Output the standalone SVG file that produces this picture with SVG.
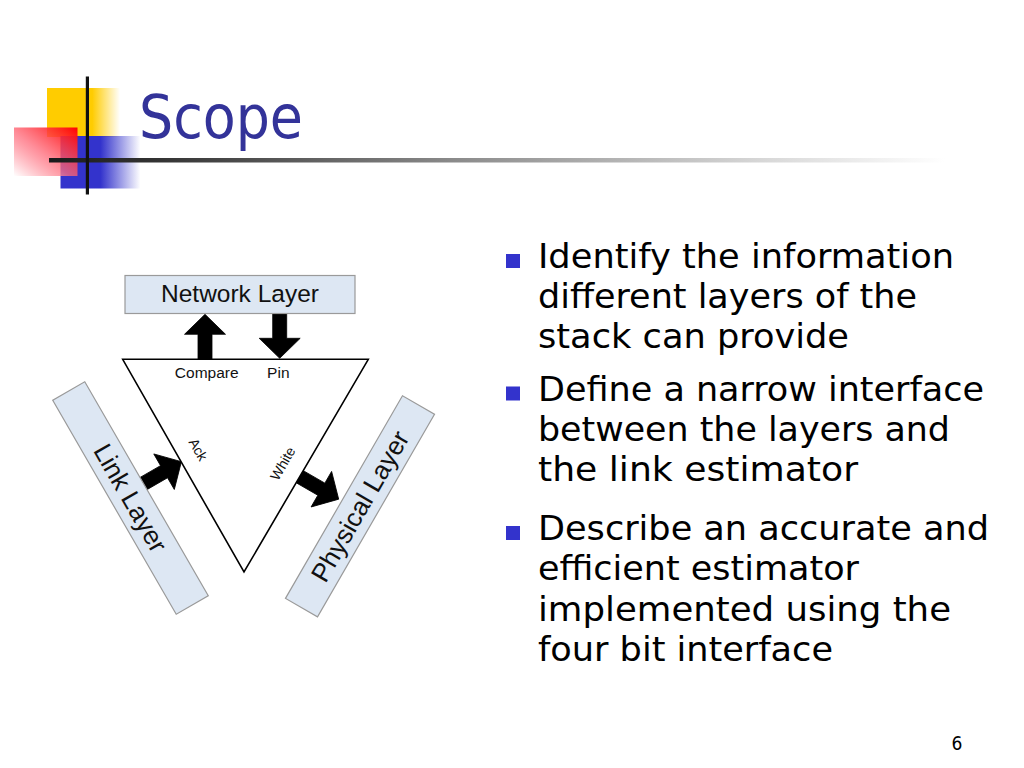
<svg xmlns="http://www.w3.org/2000/svg" width="1024" height="768" viewBox="0 0 1024 768">
<defs>
  <linearGradient id="gYellow" x1="0" y1="0" x2="1" y2="0">
    <stop offset="0" stop-color="#FFCC00"/>
    <stop offset="0.62" stop-color="#FFCC00"/>
    <stop offset="1" stop-color="#FFCC00" stop-opacity="0"/>
  </linearGradient>
  <linearGradient id="gBlue" x1="0" y1="0" x2="1" y2="0">
    <stop offset="0" stop-color="#3333CC"/>
    <stop offset="0.5" stop-color="#3333CC"/>
    <stop offset="1" stop-color="#3333CC" stop-opacity="0"/>
  </linearGradient>
  <linearGradient id="gRed" x1="1" y1="0" x2="0" y2="1">
    <stop offset="0" stop-color="#FF0000"/>
    <stop offset="0.55" stop-color="#FF6A7A" stop-opacity="0.75"/>
    <stop offset="1" stop-color="#FFFFFF" stop-opacity="0.9"/>
  </linearGradient>
  <linearGradient id="gLine" gradientUnits="userSpaceOnUse" x1="49" y1="0" x2="945" y2="0">
    <stop offset="0" stop-color="#1a1a1a"/>
    <stop offset="0.12" stop-color="#333333"/>
    <stop offset="0.45" stop-color="#8a8a8a"/>
    <stop offset="0.8" stop-color="#d8d8d8"/>
    <stop offset="1" stop-color="#ffffff"/>
  </linearGradient>
  <path id="arrow" d="M0,-7 L25,-7 L25,-20.5 L45,0 L25,20.5 L25,7 L0,7 Z"/>
</defs>
<style>
  .layer { fill: #DDE7F3; stroke: #9a9a9a; stroke-width: 1.2; }
  .lbl { font-family: "Liberation Sans", Arial, sans-serif; fill: #111; }
  .body { font-family: "DejaVu Sans Condensed", "DejaVu Sans", sans-serif; font-stretch: condensed; font-size: 34px; fill: #000; }
  .bullet { fill: #3333CC; }
  .arr { fill: #000; stroke: #000; stroke-width: 0.8; stroke-linejoin: miter; }
</style>
<rect width="1024" height="768" fill="#ffffff"/>

<g id="logo">
  <rect x="47" y="88" width="73" height="49" fill="url(#gYellow)"/>
  <rect x="60.5" y="136" width="80" height="52.5" fill="url(#gBlue)"/>
  <rect x="14" y="127.5" width="63.5" height="48.5" fill="url(#gRed)"/>
  <rect x="49" y="158" width="896" height="4.5" fill="url(#gLine)"/>
  <rect x="85.8" y="76.5" width="3.2" height="118" fill="#111"/>
</g>

<g id="title">
  <text x="139" y="138" font-family="'DejaVu Sans Condensed', 'DejaVu Sans', sans-serif" font-stretch="condensed" font-size="60" fill="#333399" textLength="164" lengthAdjust="spacingAndGlyphs">Scope</text>
</g>

<g id="connectors">
  <use href="#arrow" class="arr" transform="translate(205,359.3) rotate(-90)"/>
  <use href="#arrow" class="arr" transform="translate(279.7,313.3) rotate(90)"/>
  <use href="#arrow" class="arr" transform="translate(142.4,484.2) rotate(-30)"/>
  <use href="#arrow" class="arr" transform="translate(299.7,476.7) rotate(30)"/>
</g>

<g id="estimator">
  <polygon points="122.7,359.3 368.3,359.3 244,572" fill="#ffffff" stroke="#000" stroke-width="1.6" stroke-linejoin="miter"/>
  <text class="lbl" x="206.7" y="378" font-size="15.5" text-anchor="middle">Compare</text>
  <text class="lbl" x="278.3" y="378" font-size="15.5" text-anchor="middle">Pin</text>
  <text class="lbl" font-size="14" text-anchor="middle" transform="translate(194,452) rotate(60)" y="0">Ack</text>
  <text class="lbl" font-size="14" text-anchor="middle" transform="translate(287,466) rotate(-60)" y="0">White</text>
</g>

<g id="network-layer">
  <rect class="layer" x="125" y="275.5" width="230" height="38"/>
  <text class="lbl" x="240" y="302.3" font-size="24.5" text-anchor="middle">Network Layer</text>
</g>

<g id="link-layer" transform="translate(130.5,498) rotate(60)">
  <rect class="layer" x="-123.5" y="-18.5" width="247" height="37"/>
  <text class="lbl" x="0" y="9" font-size="26" text-anchor="middle">Link Layer</text>
</g>

<g id="physical-layer" transform="translate(360,506.3) rotate(-60)">
  <rect class="layer" x="-117" y="-18.5" width="234" height="37"/>
  <text class="lbl" x="0" y="9" font-size="26" text-anchor="middle">Physical Layer</text>
</g>

<g id="bullets">
  <rect class="bullet" x="506" y="254" width="14" height="14"/>
  <text class="body" x="538" y="267.7" textLength="416" lengthAdjust="spacingAndGlyphs">Identify the information</text>
  <text class="body" x="538" y="307.7" textLength="379" lengthAdjust="spacingAndGlyphs">different layers of the</text>
  <text class="body" x="538" y="347.7" textLength="311" lengthAdjust="spacingAndGlyphs">stack can provide</text>

  <rect class="bullet" x="506" y="386.5" width="14" height="14"/>
  <text class="body" x="538" y="400.5" textLength="446" lengthAdjust="spacingAndGlyphs">Define a narrow interface</text>
  <text class="body" x="538" y="440.5" textLength="412" lengthAdjust="spacingAndGlyphs">between the layers and</text>
  <text class="body" x="538" y="481" textLength="320" lengthAdjust="spacingAndGlyphs">the link estimator</text>

  <rect class="bullet" x="506" y="526" width="14" height="14"/>
  <text class="body" x="538" y="540" textLength="451" lengthAdjust="spacingAndGlyphs">Describe an accurate and</text>
  <text class="body" x="538" y="580" textLength="321" lengthAdjust="spacingAndGlyphs">efficient estimator</text>
  <text class="body" x="538" y="620.5" textLength="413" lengthAdjust="spacingAndGlyphs">implemented using the</text>
  <text class="body" x="538" y="660.7" textLength="295" lengthAdjust="spacingAndGlyphs">four bit interface</text>
</g>

<g id="page-number">
  <text x="957" y="750" font-family="'DejaVu Sans Condensed', 'DejaVu Sans', sans-serif" font-stretch="condensed" font-size="19" text-anchor="middle" fill="#000">6</text>
</g>
</svg>
